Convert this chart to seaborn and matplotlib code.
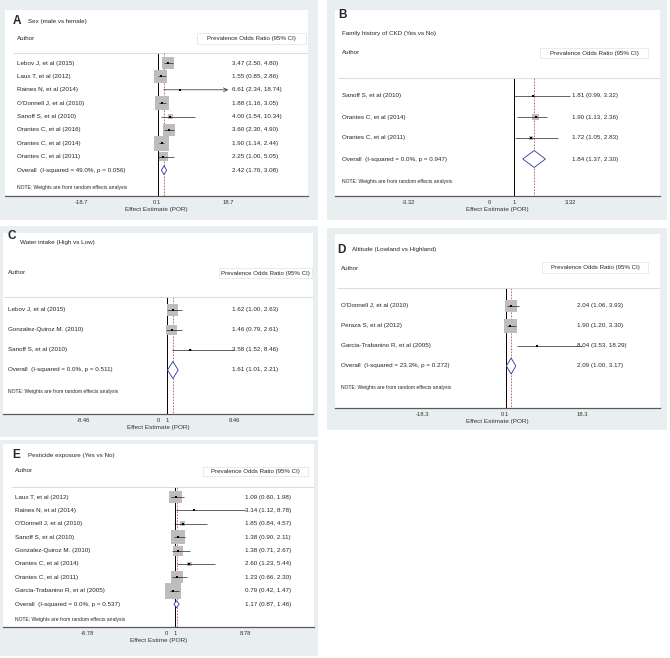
import matplotlib
matplotlib.use('Agg')
import matplotlib.pyplot as plt
import matplotlib.transforms as mtransforms
from matplotlib.patches import Rectangle
import pandas as pd
import seaborn as sns

W, H = 670, 658
BG = '#e9eff1'
BOX = '#bdbdbd'
NAVY = '#33339a'
RED = '#c0504d'

# ---- A: sex (male vs female)
sex_authors = ["Lebov J, et al (2015)", "Laux T, et al (2012)", "Raines N, et al (2014)",
               "O'Donnell J, et al (2010)", "Sanoff S, et al (2010)", "Orantes C, et al (2016)",
               "Orantes C, et al (2014)", "Orantes C, et al (2011)"]
sex_por = [3.47, 1.55, 6.61, 1.88, 4.00, 3.60, 1.90, 2.25]
sex_lo = [2.50, 0.85, 2.34, 1.16, 1.54, 2.30, 1.14, 1.00]
sex_hi = [4.80, 2.86, 18.74, 3.05, 10.34, 4.90, 2.44, 5.05]
sex_weight = [14.4, 18.2, 0.4, 19.6, 2.5, 14.4, 22.5, 8.1]
sex_overall = [2.42, 1.76, 3.08]
sex_het = [49.0, 0.056]
sex_ticks = [-18.7, 0, 1, 18.7]

# ---- B: family history of CKD
fam_authors = ["Sanoff S, et al (2010)", "Orantes C, et al (2014)", "Orantes C, et al (2011)"]
fam_por = [1.81, 1.90, 1.72]
fam_lo = [0.99, 1.13, 1.05]
fam_hi = [3.32, 2.36, 2.83]
fam_weight = [8.8, 69.0, 22.5]
fam_overall = [1.84, 1.37, 2.30]
fam_het = [0.0, 0.947]
fam_ticks = [-3.32, 0, 1, 3.32]

# ---- C: water intake
water_authors = ["Lebov J, et al (2015)", "Gonzalez-Quiroz M. (2010)", "Sanoff S, et al (2010)"]
water_por = [1.62, 1.46, 3.58]
water_lo = [1.00, 0.79, 1.52]
water_hi = [2.63, 2.61, 8.46]
water_weight = [52.0, 46.0, 2.0]
water_overall = [1.61, 1.01, 2.21]
water_het = [0.0, 0.511]
water_ticks = [-8.46, 0, 1, 8.46]

# ---- D: altitude
alt_authors = ["O'Donnell J, et al (2010)", "Peraza S, et al (2012)", "Garcia-Trabanino R, et al (2005)"]
alt_por = [2.04, 1.90, 8.04]
alt_lo = [1.06, 1.20, 3.53]
alt_hi = [3.93, 3.30, 18.29]
alt_weight = [41.0, 57.0, 1.4]
alt_overall = [2.09, 1.00, 3.17]
alt_het = [23.3, 0.272]
alt_ticks = [-18.3, 0, 1, 18.3]

# ---- E: pesticide exposure
pest_authors = ["Laux T, et al (2012)", "Raines N, et al (2014)", "O'Donnell J, et al (2010)",
                "Sanoff S, et al (2010)", "Gonzalez-Quiroz M. (2010)", "Orantes C, et al (2014)",
                "Orantes C, et al (2011)", "Garcia-Trabanino R, et al (2005)"]
pest_por = [1.09, 3.14, 1.85, 1.38, 1.38, 2.60, 1.23, 0.79]
pest_lo = [0.60, 1.12, 0.84, 0.90, 0.71, 1.23, 0.66, 0.42]
pest_hi = [1.98, 8.78, 4.57, 2.11, 2.67, 5.44, 2.30, 1.47]
pest_weight = [18.4, 0.4, 2.7, 21.3, 10.9, 2.7, 15.7, 27.9]
pest_overall = [1.17, 0.87, 1.46]
pest_het = [0.0, 0.537]
pest_ticks = [-8.78, 0, 1, 8.78]

# panel geometry in pixels (x from left, y from top)
LAYOUT = {
    'A': dict(title='Sex (male vs female)', letter_xy=(13, 21), title_xy=(28, 21),
              outer=(0, 0, 318, 220), white=(5, 10, 308, 196), zero=154.5, ppu=3.93,
              row0=63, dy=13.4, sep=53, author_x=17, author_y=38, value_x=232,
              hbox=(197, 33, 306, 44), note_y=188, box_c=3.16, dia_h=9,
              xlabel='Effect Estimate (POR)'),
    'B': dict(title='Family history of CKD (Yes vs No)', letter_xy=(338, 15), title_xy=(342, 34),
              outer=(327, 0, 667, 220), white=(335, 10, 660, 196), zero=489.5, ppu=24.3,
              row0=96, dy=21, sep=78, author_x=342, author_y=53, value_x=572,
              hbox=(540, 48, 648, 58), note_y=181, box_c=0.84, dia_h=17,
              xlabel='Effect Estimate (POR)'),
    'C': dict(title='Water intake (High vs Low)', letter_xy=(7, 236), title_xy=(20, 243),
              outer=(0, 226, 318, 437), white=(3, 233, 313, 414), zero=158.5, ppu=8.92,
              row0=310, dy=20, sep=297, author_x=8, author_y=273, value_x=232,
              hbox=(219, 268, 312, 278), note_y=391, box_c=1.53, dia_h=17,
              xlabel='Effect Estimate (POR)'),
    'D': dict(title='Altitude (Lowland vs Highland)', letter_xy=(337, 250), title_xy=(352, 250),
              outer=(327, 228, 667, 430), white=(335, 234, 660, 408), zero=502, ppu=4.37,
              row0=306, dy=20, sep=288, author_x=341, author_y=268, value_x=577,
              hbox=(542, 262, 648, 273), note_y=388, box_c=1.76, dia_h=16,
              xlabel='Effect Estimate (POR)'),
    'E': dict(title='Pesticide exposure (Yes vs No)', letter_xy=(12, 455), title_xy=(28, 455),
              outer=(0, 440, 318, 656), white=(3, 444, 314, 627), zero=166, ppu=9.0,
              row0=497, dy=13.4, sep=487, author_x=15, author_y=471, value_x=245,
              hbox=(203, 467, 308, 476), note_y=619, box_c=3.03, dia_h=7,
              xlabel='Effect Estime (POR)'),
}

ROW_FS = 4.5


def add_text(fig, x, y, s, **kw):
    kw.setdefault('va', 'center')
    kw.setdefault('ha', 'left')
    fig.text(x / W, 1 - y / H, s, **kw)


def add_rect(fig, box, **kw):
    x0, y0, x1, y1 = box
    fig.add_artist(Rectangle((x0 / W, 1 - y1 / H), (x1 - x0) / W, (y1 - y0) / H,
                             transform=fig.transFigure, **kw))


def draw_panel(fig, letter, authors, por, lo, hi, weight, overall, het, ticks):
    g = LAYOUT[letter]
    add_rect(fig, g['outer'], facecolor=BG, edgecolor='none', zorder=0)

    l, t, r, b = g['white']
    ax = fig.add_axes([l / W, 1 - b / H, (r - l) / W, (b - t) / H])
    ax.set_zorder(1)
    ax.set_facecolor('white')
    zero, ppu = g['zero'], g['ppu']
    to_row = lambda ypx: (ypx - g['row0']) / g['dy']
    to_x = lambda xpx: (xpx - zero) / ppu

    n = len(authors)
    rows = list(range(n))
    df = pd.DataFrame({'por': por, 'lo': lo, 'hi': hi, 'row': rows, 'w': weight})

    # weight boxes (area proportional to weight)
    wmax = max(weight)
    amax = (g['box_c'] * wmax ** 0.5 / (100 / 72)) ** 2
    sns.scatterplot(data=df, x='por', y='row', size='w', sizes=(0, amax),
                    size_norm=(0, wmax), marker='s', color=BOX, linewidth=0,
                    legend=False, ax=ax, zorder=2)

    # confidence intervals
    for _, d in df.iterrows():
        if d['hi'] > ticks[-1]:
            ax.annotate('', xy=(d['hi'], d['row']), xytext=(d['lo'], d['row']),
                        arrowprops=dict(arrowstyle='->', lw=0.5, color='#222222',
                                        shrinkA=0, shrinkB=0, mutation_scale=7),
                        zorder=3)
        else:
            ax.hlines(d['row'], d['lo'], d['hi'], color='#222222', lw=0.5, zorder=3)
    sns.scatterplot(data=df, x='por', y='row', marker='s', s=2.2, color='black',
                    linewidth=0, legend=False, ax=ax, zorder=4)

    # reference lines
    y_sep, y_bot = to_row(g['sep']), to_row(b)
    ax.hlines(y_sep, to_x(g['author_x'] - 4), to_x(r), color='#d6d6d6', lw=0.6)
    ax.vlines(1, y_sep, y_bot, color='black', lw=0.7, zorder=1)
    ax.vlines(overall[0], y_sep, y_bot, color=RED, lw=0.6, linestyles=(0, (2, 1.6)), zorder=1)

    # overall diamond
    est, olo, ohi = overall
    hh = g['dia_h'] / 2 / g['dy']
    ax.fill([olo, est, ohi, est], [n, n - hh, n, n + hh], facecolor='white',
            edgecolor=NAVY, lw=0.6, zorder=5)

    ax.set_xlim(to_x(l), to_x(r))
    ax.set_ylim(to_row(b), to_row(t))

    for s in ['top', 'left', 'right']:
        ax.spines[s].set_visible(False)
    ax.spines['bottom'].set_color('#5a5a5a')
    ax.spines['bottom'].set_linewidth(0.9)
    ax.set_yticks([])
    ax.set_ylabel('')
    ax.set_xticks(ticks, labels=[f'{v:g}' for v in ticks])
    ax.tick_params(axis='x', length=2, width=0.5, pad=1, labelsize=4.2, colors='#333333')
    ax.set_xlabel(g['xlabel'], fontsize=4.6, labelpad=1.0, color='#333333')

    # text columns
    blend = mtransforms.blended_transform_factory(fig.transFigure, ax.transData)
    for i, name in enumerate(authors):
        ax.text(g['author_x'] / W, i, name, transform=blend, fontsize=ROW_FS, va='center')
        ax.text(g['value_x'] / W, i, f'{por[i]:.2f} ({lo[i]:.2f}, {hi[i]:.2f})',
                transform=blend, fontsize=ROW_FS, va='center')
    ax.text(g['author_x'] / W, n, f'Overall  (I-squared = {het[0]:.1f}%, p = {het[1]:.3f})',
            transform=blend, fontsize=ROW_FS, va='center')
    ax.text(g['value_x'] / W, n, f'{est:.2f} ({olo:.2f}, {ohi:.2f})',
            transform=blend, fontsize=ROW_FS, va='center')

    # headers
    add_text(fig, *g['letter_xy'], letter, fontsize=8.5, fontweight='bold', zorder=3)
    add_text(fig, *g['title_xy'], g['title'], fontsize=4.5, zorder=3)
    add_text(fig, g['author_x'], g['author_y'], 'Author', fontsize=4.5, zorder=3)
    add_rect(fig, g['hbox'], facecolor='white', edgecolor='#e2e2e2', lw=0.5, zorder=2)
    hx0, hy0, hx1, hy1 = g['hbox']
    add_text(fig, (hx0 + hx1) / 2, (hy0 + hy1) / 2, 'Prevalence Odds Ratio (95% CI)',
             fontsize=4.4, ha='center', zorder=3)
    add_text(fig, g['author_x'], g['note_y'], 'NOTE: Weights are from random effects analysis',
             fontsize=3.6, zorder=3)
    return ax


def main():
    sns.set_style('white')
    plt.rcParams['font.family'] = ['Liberation Sans', 'DejaVu Sans']
    fig = plt.figure(figsize=(W / 100, H / 100), dpi=100)
    fig.patch.set_facecolor('white')

    draw_panel(fig, 'A', sex_authors, sex_por, sex_lo, sex_hi, sex_weight,
               sex_overall, sex_het, sex_ticks)
    draw_panel(fig, 'B', fam_authors, fam_por, fam_lo, fam_hi, fam_weight,
               fam_overall, fam_het, fam_ticks)
    draw_panel(fig, 'C', water_authors, water_por, water_lo, water_hi, water_weight,
               water_overall, water_het, water_ticks)
    draw_panel(fig, 'D', alt_authors, alt_por, alt_lo, alt_hi, alt_weight,
               alt_overall, alt_het, alt_ticks)
    draw_panel(fig, 'E', pest_authors, pest_por, pest_lo, pest_hi, pest_weight,
               pest_overall, pest_het, pest_ticks)

    fig.savefig('out.png', dpi=100, facecolor='white')


if __name__ == '__main__':
    main()
